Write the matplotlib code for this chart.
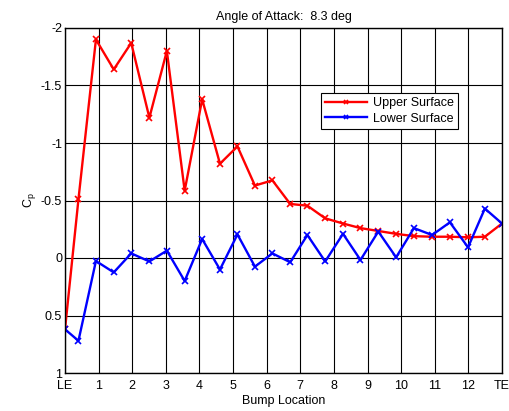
import matplotlib
matplotlib.use("Agg")
import matplotlib.pyplot as plt

plt.rcParams['font.family'] = ['Liberation Sans', 'DejaVu Sans']

# Pressure coefficient along the bump (LE = 0, TE = 13)
x_upper = [0.0, 0.40, 0.92, 1.45, 1.97, 2.51, 3.03, 3.56, 4.08, 4.61, 5.13, 5.65, 6.17,
           6.70, 7.21, 7.74, 8.27, 8.79, 9.32, 9.85, 10.38, 10.92, 11.45, 11.99, 12.49, 13.0]
cp_upper = [0.62, -0.51, -1.90, -1.64, -1.87, -1.22, -1.80, -0.585, -1.38, -0.82, -0.97, -0.63, -0.675,
            -0.47, -0.455, -0.345, -0.30, -0.26, -0.235, -0.21, -0.19, -0.185, -0.185, -0.18, -0.185, -0.30]
x_lower = x_upper
cp_lower = [0.62, 0.72, 0.026, 0.125, -0.04, 0.03, -0.064, 0.20, -0.165, 0.10, -0.205, 0.075, -0.04,
            0.037, -0.20, 0.03, -0.21, 0.017, -0.23, -0.006, -0.26, -0.20, -0.31, -0.093, -0.43, -0.30]

tick_pos = list(range(14))
tick_labels = ['LE'] + [str(i) for i in range(1, 13)] + ['TE']
y_ticks = [-2, -1.5, -1, -0.5, 0, 0.5, 1]
y_labels = ['-2', '-1.5', '-1', '-0.5', '0', '0.5', '1']

fig = plt.figure(figsize=(5.09, 4.11), dpi=100)
ax = fig.add_axes([65 / 509, 1 - 373 / 411, (502 - 65) / 509, (373 - 28) / 411])

ax.plot(x_upper, cp_upper, color='#ff0000', lw=1.7, marker='x', ms=4, mew=1.2, label='Upper Surface')
ax.plot(x_lower, cp_lower, color='#0000ff', lw=1.7, marker='x', ms=4, mew=1.2, label='Lower Surface')

ax.set_xlim(0, 13)
ax.set_ylim(1, -2)
ax.set_xticks(tick_pos)
ax.set_xticklabels(tick_labels)
ax.set_yticks(y_ticks)
ax.set_yticklabels(y_labels)
ax.grid(True, color='black', lw=0.8, ls='-')
ax.set_axisbelow(True)
ax.tick_params(direction='in', top=True, right=True, labelsize=9, length=3, width=0.7, pad=2, colors='black')
ax.tick_params(axis='x', pad=5)
for s in ax.spines.values():
    s.set_linewidth(1.0)

ax.set_title('Angle of Attack:  8.3 deg', fontsize=9, pad=6)
ax.set_xlabel('Bump Location', fontsize=9, labelpad=2)
ax.set_ylabel('C$_\\mathregular{p}$', fontsize=9, labelpad=2)

leg = ax.legend(loc='upper left', bbox_to_anchor=((321 - 65) / 437, 1 - (92.7 - 28) / 345),
                fontsize=9, fancybox=False, framealpha=1, edgecolor='black',
                borderaxespad=0, handlelength=3.3, markerscale=0.8, borderpad=0.35,
                labelspacing=0.3, handletextpad=0.5)
leg.get_frame().set_linewidth(0.8)

fig.savefig('out.png', dpi=100)
